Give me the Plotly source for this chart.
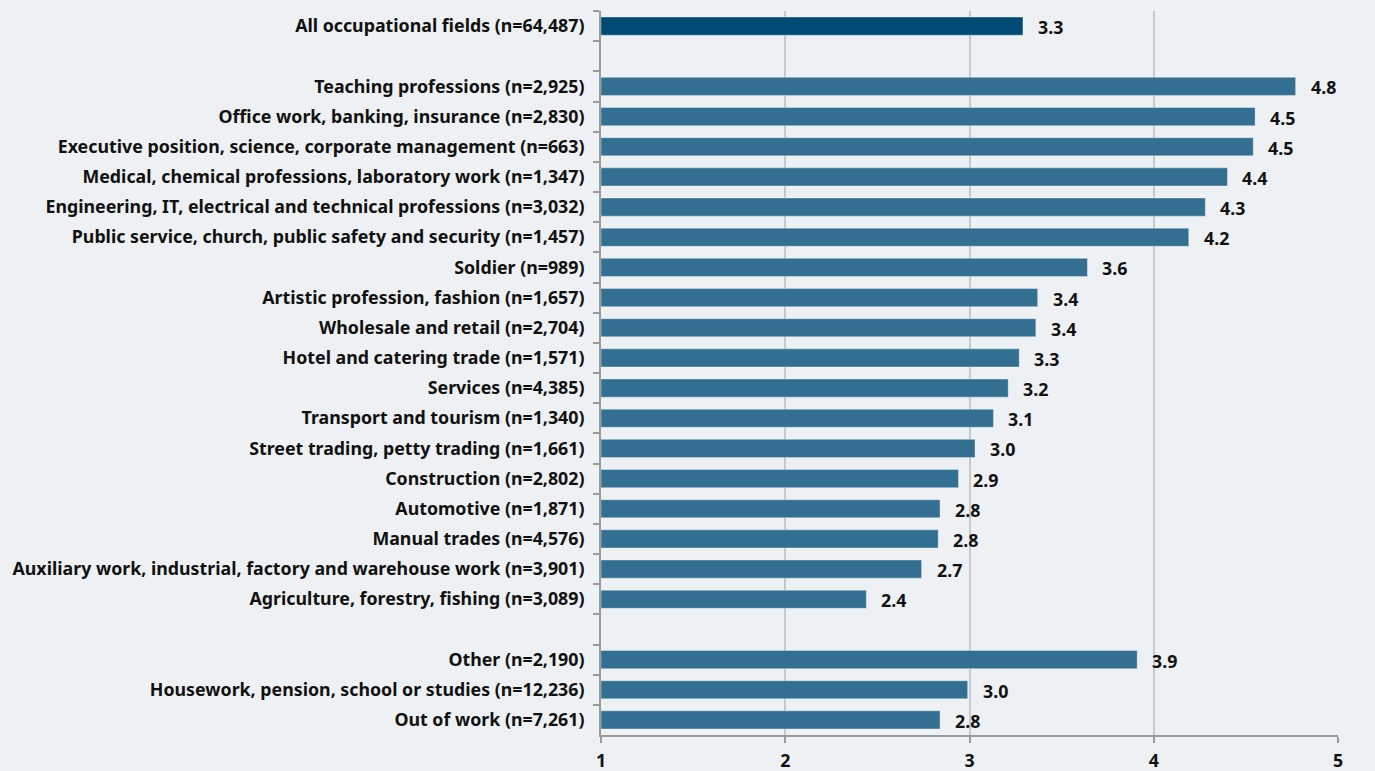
import plotly.graph_objects as go

categories = [
    "All occupational fields (n=64,487)",
    " ",
    "Teaching professions (n=2,925)",
    "Office work, banking, insurance (n=2,830)",
    "Executive position, science, corporate management (n=663)",
    "Medical, chemical professions, laboratory work (n=1,347)",
    "Engineering, IT, electrical and technical professions (n=3,032)",
    "Public service, church, public safety and security (n=1,457)",
    "Soldier (n=989)",
    "Artistic profession, fashion (n=1,657)",
    "Wholesale and retail (n=2,704)",
    "Hotel and catering trade (n=1,571)",
    "Services (n=4,385)",
    "Transport and tourism (n=1,340)",
    "Street trading, petty trading (n=1,661)",
    "Construction (n=2,802)",
    "Automotive (n=1,871)",
    "Manual trades (n=4,576)",
    "Auxiliary work, industrial, factory and warehouse work (n=3,901)",
    "Agriculture, forestry, fishing (n=3,089)",
    "  ",
    "Other (n=2,190)",
    "Housework, pension, school or studies (n=12,236)",
    "Out of work (n=7,261)",
]
values = [3.29, None, 4.77, 4.55, 4.54, 4.40, 4.28, 4.19, 3.64, 3.37, 3.36, 3.27,
          3.21, 3.13, 3.03, 2.94, 2.84, 2.83, 2.74, 2.44, None, 3.91, 2.99, 2.84]
value_labels = ["3.3", "", "4.8", "4.5", "4.5", "4.4", "4.3", "4.2", "3.6", "3.4", "3.4", "3.3",
                "3.2", "3.1", "3.0", "2.9", "2.8", "2.8", "2.7", "2.4", "", "3.9", "3.0", "2.8"]
x_ticks = [1, 2, 3, 4, 5]

DARK = "#004b76"
MID = "#336f91"
colors = [DARK if i == 0 else MID for i in range(len(categories))]
FONT = "Noto Sans"
FS = 17.8

fig = go.Figure()
fig.add_trace(go.Bar(
    y=categories, x=[None if v is None else v - 1 for v in values], base=1,
    orientation="h",
    marker=dict(color=colors, line=dict(color="rgba(255,255,255,0.35)", width=1)),
    width=0.6,
    hoverinfo="skip",
))

for c, v, t in zip(categories, values, value_labels):
    if v is None:
        continue
    fig.add_annotation(x=v, y=c, text=t, showarrow=False, xanchor="left",
                       xshift=13, yshift=-1,
                       font=dict(family=FONT, size=FS, color="#111111", weight="bold"))

fig.update_layout(
    width=1375, height=771,
    margin=dict(l=601, r=37, t=11, b=36, autoexpand=False),
    paper_bgcolor="#eef1f3", plot_bgcolor="#eef1f3",
    showlegend=False,
    font=dict(family=FONT, size=FS, color="#111111", weight="bold"),
)
fig.update_xaxes(
    range=[1, 5], tickvals=x_ticks, ticktext=[str(t) for t in x_ticks],
    showgrid=True, gridcolor="#c6c9cc", gridwidth=1.5,
    showline=True, linecolor="#9a9a9a", linewidth=2,
    ticks="outside", ticklen=6, tickcolor="#9a9a9a", tickwidth=2,
    ticklabelstandoff=3, automargin=False,
    zeroline=False, fixedrange=True,
    tickfont=dict(family=FONT, size=FS, color="#111111", weight="bold"),
)
fig.update_yaxes(
    type="category", categoryorder="array", categoryarray=categories,
    autorange="reversed", automargin=False,
    showline=True, linecolor="#9a9a9a", linewidth=2,
    ticks="outside", ticklen=6, tickcolor="#9a9a9a", tickwidth=2,
    tickson="boundaries", showgrid=False,
    ticklabelstandoff=11,
    tickfont=dict(family=FONT, size=FS, color="#111111", weight="bold"),
)

fig.write_html("out.html", config={"displayModeBar": False},
               post_script="document.body.style.margin='0';document.body.style.overflow='hidden';")
